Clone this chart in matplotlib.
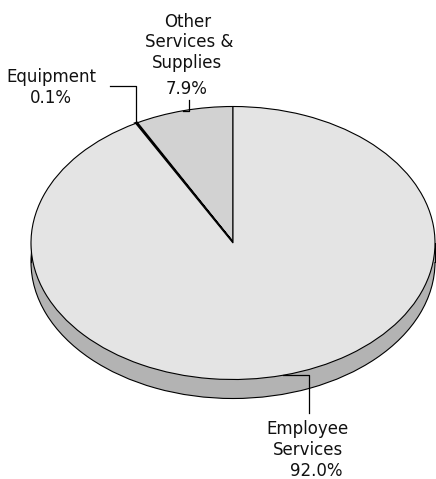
import numpy as np
import matplotlib
matplotlib.use("Agg")
import matplotlib.pyplot as plt
from matplotlib.patches import Rectangle

plt.rcParams['font.family'] = ['DejaVu Sans']

# ---- data ----
categories = ["Other Services & Supplies", "Equipment", "Employee Services"]
name_labels = ["Other\nServices &\nSupplies", "Equipment", "Employee\nServices"]
values = [7.9, 0.1, 92.0]
pct_labels = ["7.9%", "0.1%", "92.0%"]
colors = ["#d2d2d2", "#000000", "#e4e4e4"]
side_color = "#b3b3b3"

W, H = 436, 479
fig = plt.figure(figsize=(W / 100, H / 100), dpi=100)
ax = fig.add_axes([0, 0, 1, 1])

# pixel layout helpers
cx, cy, rx, ry = 233, 243, 202, 136.5
def px(x):
    return (x - cx) / rx
def py(y):
    return (cy - y) / ry

depth = 19 / ry

# side (3D depth)
ax.pie([1], colors=[side_color], center=(0, -depth), radius=1,
       wedgeprops=dict(edgecolor="black", linewidth=0.8), frame=True)
ax.add_patch(Rectangle((-1, -depth), 2, depth, facecolor=side_color,
                       edgecolor="none", zorder=1.5))
ax.plot([-1, -1], [-depth, 0], color="black", lw=0.8, zorder=1.6)
ax.plot([1, 1], [-depth, 0], color="black", lw=0.8, zorder=1.6)

# top face
wedges, _ = ax.pie(values, colors=colors, startangle=90, counterclock=True,
                   radius=1, center=(0, 0), frame=True,
                   wedgeprops=dict(edgecolor="black", linewidth=0.8))
for w in wedges:
    w.set_zorder(2)
wedges[1].set_linewidth(2.0)

# wedge mid angles
cum = np.cumsum([0] + values)
mids = [90 + 360 * (cum[i] + cum[i + 1]) / 2 / 100 for i in range(len(values))]
anchors = [(np.cos(np.radians(a)), np.sin(np.radians(a))) for a in mids]

lk = dict(color="black", lw=0.9, zorder=3)
# Other leader
a = anchors[0]
ax.plot([a[0], px(189), px(189)], [a[1], a[1], py(100)], **lk)
# Equipment leader
a = anchors[1]
ax.plot([a[0], a[0], px(110)], [a[1], py(86), py(86)], **lk)
# Employee leader
a = anchors[2]
ax.plot([a[0], px(309), px(309)], [a[1], a[1], py(413)], **lk)

fs = 12
tk = dict(fontsize=fs, ha="center", va="baseline", color="#111111", zorder=4)

# label line layout (pixel x centers, baselines)
name_pos = [([188, 189, 187.5], [27.3, 46.7, 67.7]),
            ([51], [81.7]),
            ([308, 308.5], [434, 455])]
pct_pos = [(187, 94), (50.5, 102.7), (316, 476)]

for lab, (xs, ys) in zip(name_labels, name_pos):
    for line, x, y in zip(lab.split("\n"), xs, ys):
        ax.text(px(x), py(y), line, **tk)
for lab, (x, y) in zip(pct_labels, pct_pos):
    ax.text(px(x), py(y), lab, **tk)

ax.set_aspect("auto")
ax.set_xlim(px(0), px(W))
ax.set_ylim(py(H), py(0))
ax.axis("off")

fig.savefig("out.png", dpi=100, facecolor="white")
